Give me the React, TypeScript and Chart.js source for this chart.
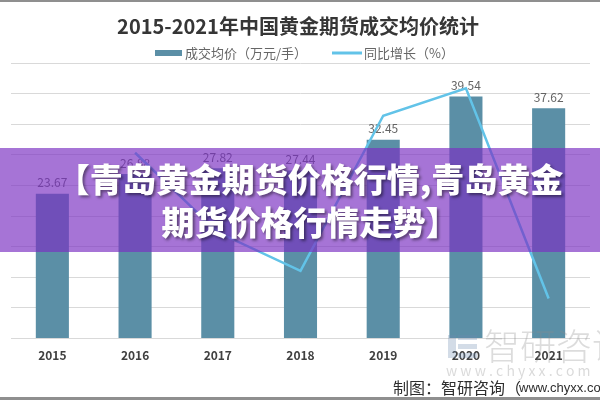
import React, { useEffect, useRef } from "react";
import { Chart, registerables } from "chart.js";

Chart.register(...registerables);

const years = ["2015", "2016", "2017", "2018", "2019", "2020", "2021"];
const avgPrice = [23.67, 26.88, 27.82, 27.44, 32.45, 39.54, 37.62];
const yoyGrowth = [null, 13.6, 3.5, -1.4, 18.3, 21.8, -4.9];
const priceLabel = "成交均价（万元/手）";
const growthLabel = "同比增长（%）";
const titleText = "2015-2021年中国黄金期货成交均价统计";
const sourcePrefix = "制图：智研咨询（";
const sourceSite = "www.chyxx.com）";
const watermarkText = "智研咨询";
const watermarkUrl = "w w w . c h y x x . c o m";
const bannerLines = ["【青岛黄金期货价格行情,青岛黄金", "期货价格行情走势】"];

const BAR_COLOR = "#5b8fa6";
const LINE_COLOR = "#62c3e8";
const CJK = '"Noto Sans CJK SC", "Noto Sans", sans-serif';

const decor = {
  id: "decor",
  beforeDraw(chart: any) {
    const ctx = chart.ctx;
    ctx.save();
    ctx.fillStyle = "#ffffff";
    ctx.fillRect(0, 0, chart.width, chart.height);
    ctx.restore();
  },
  afterDatasetDraw(chart: any, args: any) {
    if (args.index !== 0) return;
    const ctx = chart.ctx;
    const meta = chart.getDatasetMeta(0);
    ctx.save();
    ctx.font = `12px ${CJK}`;
    ctx.fillStyle = "#646464";
    ctx.textAlign = "center";
    ctx.textBaseline = "bottom";
    meta.data.forEach((el: any, i: number) => {
      ctx.fillText(avgPrice[i].toFixed(2), el.x, el.y - 5);
    });
    ctx.restore();
  },
  afterDraw(chart: any) {
    const ctx = chart.ctx;
    ctx.save();
    // frame lines
    ctx.fillStyle = "#8f8f8f";
    ctx.fillRect(0, 0, chart.width, 2);
    ctx.fillRect(0, 397, chart.width, 3);
    // title
    ctx.font = `bold 20px ${CJK}`;
    ctx.fillStyle = "#363636";
    ctx.textAlign = "center";
    ctx.textBaseline = "middle";
    ctx.fillText(titleText, 298, 26);
    // legend
    ctx.font = `13px ${CJK}`;
    ctx.textAlign = "left";
    ctx.fillStyle = BAR_COLOR;
    ctx.fillRect(155, 50, 27, 6);
    ctx.fillStyle = "#666666";
    ctx.fillText(priceLabel, 185, 53);
    ctx.strokeStyle = LINE_COLOR;
    ctx.lineWidth = 3;
    ctx.beginPath();
    ctx.moveTo(332, 53);
    ctx.lineTo(362, 53);
    ctx.stroke();
    ctx.fillText(growthLabel, 364, 53);
    // watermark
    ctx.fillStyle = "rgba(110,140,175,0.3)";
    ctx.fillRect(448, 335, 8, 23);
    ctx.fillRect(458, 335, 19, 5);
    ctx.fillRect(458, 344, 19, 5);
    ctx.fillRect(458, 353, 19, 5);
    ctx.font = `300 36px ${CJK}`;
    ctx.fillStyle = "rgba(140,140,140,0.3)";
    ctx.textBaseline = "middle";
    ctx.fillText(watermarkText, 484, 346);
    ctx.font = `14px ${CJK}`;
    ctx.fillStyle = "rgba(150,150,150,0.35)";
    ctx.fillText(watermarkUrl, 446, 371);
    // source
    ctx.font = `16px ${CJK}`;
    ctx.fillStyle = "#2e2e2e";
    ctx.fillText(sourcePrefix, 393, 388);
    const w = ctx.measureText(sourcePrefix).width;
    ctx.font = `13px "Liberation Sans", Arial, sans-serif`;
    ctx.fillText(sourceSite, 393 + w - 2, 388);
    ctx.restore();
  },
};

export default function App() {
  const ref = useRef<HTMLCanvasElement | null>(null);
  useEffect(() => {
    if (!ref.current) return;
    const chart = new Chart(ref.current, {
      type: "bar",
      data: {
        labels: years,
        datasets: [
          {
            type: "bar",
            label: priceLabel,
            data: avgPrice,
            backgroundColor: BAR_COLOR,
            yAxisID: "y",
            order: 2,
            categoryPercentage: 0.8,
            barPercentage: 0.5,
          } as any,
          {
            type: "line",
            label: growthLabel,
            data: yoyGrowth,
            borderColor: LINE_COLOR,
            backgroundColor: LINE_COLOR,
            borderWidth: 2.5,
            pointRadius: 0,
            tension: 0,
            yAxisID: "y1",
            order: 1,
          } as any,
        ],
      },
      options: {
        responsive: false,
        animation: false,
        devicePixelRatio: 1,
        layout: { padding: { left: 11, right: 10, top: 63, bottom: 27 } },
        plugins: {
          legend: { display: false },
          title: { display: false },
          tooltip: { enabled: false },
        },
        scales: {
          x: {
            grid: { display: false, drawTicks: false },
            border: { display: false },
            ticks: {
              padding: 10,
              color: "#404040",
              font: { family: CJK, size: 12, weight: "bold" },
            },
          },
          y: {
            position: "left",
            min: 0,
            max: 45,
            ticks: { display: false, stepSize: 5 },
            grid: { color: "#d9d9d9", drawTicks: false, lineWidth: 1 },
            border: { display: false },
          },
          y1: {
            position: "right",
            min: -10,
            max: 25,
            display: false,
          },
        },
      } as any,
      plugins: [decor],
    });
    return () => chart.destroy();
  }, []);

  return (
    <div style={{ position: "absolute", left: 0, top: 0, width: 600, height: 400, overflow: "hidden", background: "#fff" }}>
      <canvas ref={ref} width={600} height={400} style={{ display: "block", width: 600, height: 400 }} />
      <div
        style={{
          position: "absolute",
          left: 0,
          top: 148,
          width: 600,
          height: 104,
          background: "rgba(123,48,194,0.67)",
          display: "flex",
          flexDirection: "column",
          alignItems: "center",
          justifyContent: "center",
          paddingLeft: 20,
          boxSizing: "border-box",
        }}
      >
        {bannerLines.map((l, i) => (
          <div
            key={i}
            style={{
              color: "#ffffff",
              fontFamily: CJK,
              fontWeight: 900,
              fontSize: 33,
              lineHeight: "43px",
              textShadow: "2px 2px 3px rgba(0,0,0,0.45)",
              whiteSpace: "nowrap",
            }}
          >
            {l}
          </div>
        ))}
      </div>
    </div>
  );
}
